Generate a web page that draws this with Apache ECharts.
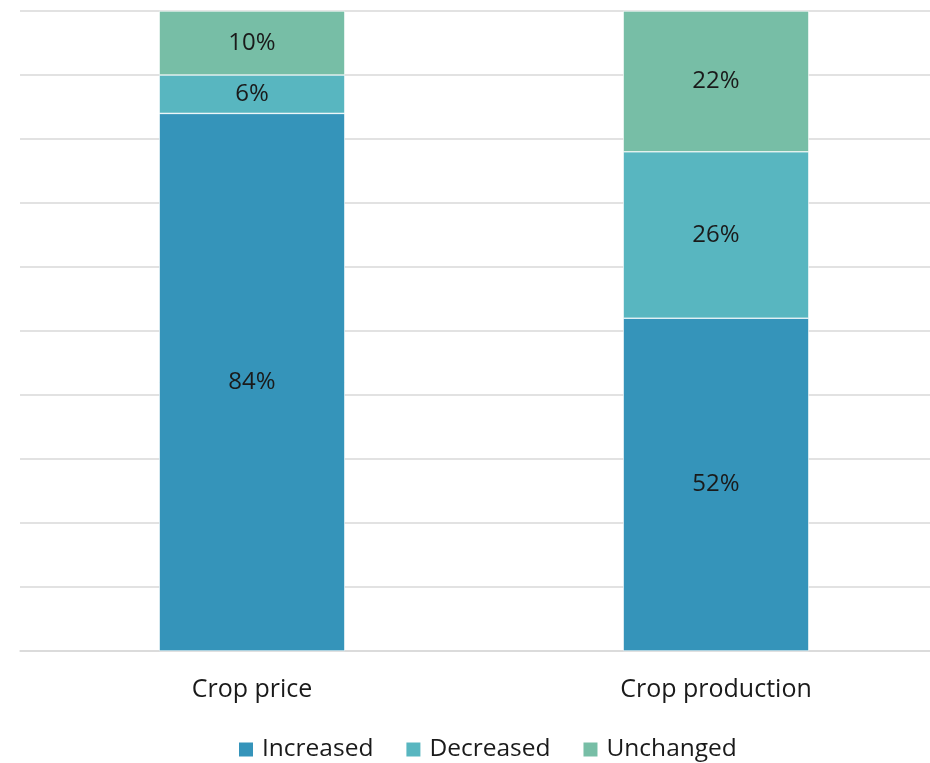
<!DOCTYPE html>
<html><head><meta charset="utf-8">
<script src="https://cdn.jsdelivr.net/npm/echarts@6/dist/echarts.min.js"></script>
<style>html,body{margin:0;padding:0;background:#fff;overflow:hidden}#c{width:968px;height:763px}</style>
</head><body><div id="c"></div>
<script>
const categories = ['Crop price', 'Crop production'];
const increased = [84, 52];
const decreased = [6, 26];
const unchanged = [10, 22];
const seriesNames = ['Increased', 'Decreased', 'Unchanged'];
const colors = ['#3594BA', '#58B6C0', '#77BEA6'];
const font = '"Open Sans", sans-serif';
const chart = echarts.init(document.getElementById('c'), null, {renderer: 'canvas'});
function mk(name, data, color) {
  return {
    name, type: 'bar', stack: 'a', data, barWidth: '40%',
    itemStyle: {color, borderColor: '#ffffff', borderWidth: 0.6},
    label: {show: true, position: 'inside', formatter: p => p.value + '%', color: '#1a1a1a', fontSize: 24, fontFamily: font},
    emphasis: {disabled: true}
  };
}
chart.setOption({
  animation: false,
  grid: {left: 20, top: 11, right: 20, bottom: 112, containLabel: false},
  legend: {
    left: 237, top: 737, padding: 0, itemWidth: 16, itemHeight: 16, itemGap: 31,
    icon: 'rect',
    textStyle: {fontSize: 24.5, fontFamily: font, color: '#1a1a1a', padding: [0, 0, 0, 3]},
    data: seriesNames
  },
  xAxis: {
    type: 'category', data: categories,
    axisLine: {lineStyle: {color: '#d9d9d9', width: 1.5}},
    axisTick: {show: false},
    axisLabel: {fontSize: 25, fontFamily: font, color: '#1a1a1a', margin: 26}
  },
  yAxis: {
    type: 'value', min: 0, max: 100, interval: 10,
    axisLabel: {show: false}, axisLine: {show: false}, axisTick: {show: false},
    splitLine: {lineStyle: {color: '#d9d9d9', width: 1.5}}
  },
  series: [
    mk(seriesNames[0], increased, colors[0]),
    mk(seriesNames[1], decreased, colors[1]),
    mk(seriesNames[2], unchanged, colors[2])
  ]
});
</script></body></html>
